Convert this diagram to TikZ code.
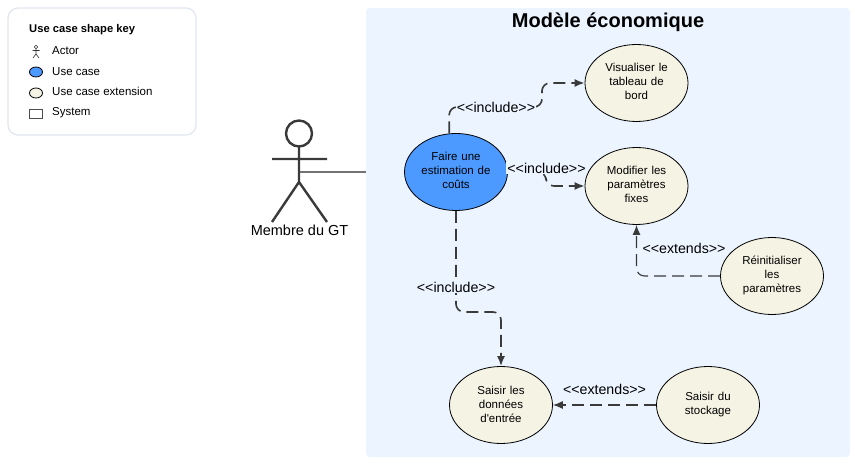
\documentclass[tikz,border=0pt]{standalone}
\usepackage{fontspec}
\setmainfont[Ligatures=TeXOff]{Liberation Sans}
\usepackage{xcolor}
\usetikzlibrary{arrows.meta,shapes.geometric}
\definecolor{panelblue}{HTML}{EBF4FF}
\definecolor{casefill}{HTML}{4C9AFF}
\definecolor{extfill}{HTML}{F5F3E4}
\definecolor{keyline}{HTML}{E1E6EE}
\definecolor{inkline}{HTML}{3A3A3A}
\tikzset{
    usecase/.style={draw=black, line width=0.8pt, ellipse, inner sep=0pt, minimum width=103pt, minimum height=77pt,
        align=center, text width=72pt, font=\fontsize{11.5}{14}\selectfont, fill=#1},
    usecase/.default=extfill,
    textup/.style={execute at end node={\par\vspace*{#1}}},
    linkinclude/.style={draw=inkline, line width=1.6pt, dash pattern=on 12pt off 6pt, rounded corners=8pt,
        -{Latex[length=10pt,width=8pt]}},
    linkextends/.style={draw=inkline, line width=1.1pt, dash pattern=on 12pt off 6pt, rounded corners=8pt,
        -{Latex[length=10pt,width=8pt]}},
    linklabel/.style={fill=panelblue, inner sep=1pt, font=\fontsize{14.2}{16}\selectfont},
    keytext/.style={anchor=west, inner sep=0pt, font=\fontsize{11.5}{13}\selectfont},
}
\begin{document}
\begin{tikzpicture}[x=1pt, y=-1pt]
    \useasboundingbox (0,0) rectangle (855,468);
    % shape key
    \draw[keyline, line width=1.2pt, fill=white, rounded corners=10pt] (8,8) rectangle (196,135);
    \node[keytext, font=\fontsize{11.2}{13}\selectfont\bfseries] (keytitle) at (29,29.5) {Use case shape key};
    \node[keytext] (keyactor) at (52,50.5) {Actor};
    \node[keytext] (keycase) at (52,71.5) {Use case};
    \node[keytext] (keyext) at (52,91.5) {Use case extension};
    \node[keytext] (keysystem) at (52,112.5) {System};
    \draw[black!80, line width=0.5pt] (36,47) circle (1.8);
    \draw[black!80, line width=0.6pt] (36,49) -- (36,54)
                        (32.5,50.5) -- (39.5,50.5)
                        (33,58) -- (36,54) -- (39,58);
    \draw[black, line width=0.8pt, fill=casefill] (36,72) ellipse (6.5 and 5);
    \draw[black, line width=0.8pt, fill=extfill] (36,93) ellipse (6.5 and 5);
    \draw[black!70, line width=0.6pt] (29.5,109) rectangle (42.5,118);

    % system
    \fill[panelblue, rounded corners=4pt] (366,8) rectangle (850,457);
    \node[font=\fontsize{20}{24}\selectfont\bfseries] (systemtitle) at (608,22) {Modèle économique};
    \coordinate (panelwest) at (366,172);

    % actor
    \draw[inkline, line width=2.4pt] (299,133.5) circle (13);
    \draw[inkline, line width=2.4pt] (299,146) -- (299,182)
                        (272,159) -- (327,159)
                        (272,222) -- (299,182) -- (327,222);
    \coordinate (actorbody) at (300,172);
    \node[font=\fontsize{14.5}{17}\selectfont] (actorlabel) at (299.5,230) {Membre du GT};
    \draw[black!55, line width=1.2pt] (actorbody) -- (panelwest);

    % use cases
    \node[usecase=casefill, textup=4pt] (faire) at (456,172) {Faire une\\estimation de\\coûts};
    \node[usecase, textup=4pt] (visualiser) at (636.5,83) {Visualiser le\\tableau de\\bord};
    \node[usecase, textup=4pt] (modifier) at (636.5,186) {Modifier les\\paramètres\\fixes};
    \node[usecase, textup=2pt] (reinit) at (772,276) {Réinitialiser\\les\\paramètres};
    \node[usecase, textup=2pt] (saisir) at (501,405) {Saisir les\\données\\d'entrée};
    \node[usecase] (stockage) at (708,405) {Saisir du\\stockage};

    % links
    \draw[linkinclude] (faire.100) |- (542,107) |- (visualiser.west);
    \draw[linkinclude] (faire.east) -- (546,172) |- (modifier.west);
    \draw[linkinclude] (faire.south) |- (501,312) -- (saisir.north);
    \draw[linkextends] (reinit.west) -| (modifier.south);
    \draw[linkextends] (stockage.west) -- (saisir.east);

    \node[linklabel] (labelvis) at (496,107) {<<include>>};
    \node[linklabel] (labelmod) at (546.5,168) {<<include>>};
    \node[linklabel] (labelsaisir) at (456,287) {<<include>>};
    \node[linklabel] (labelreinit) at (684,248) {<<extends>>};
    \node[linklabel] (labelstock) at (604.5,389) {<<extends>>};
\end{tikzpicture}
\end{document}
